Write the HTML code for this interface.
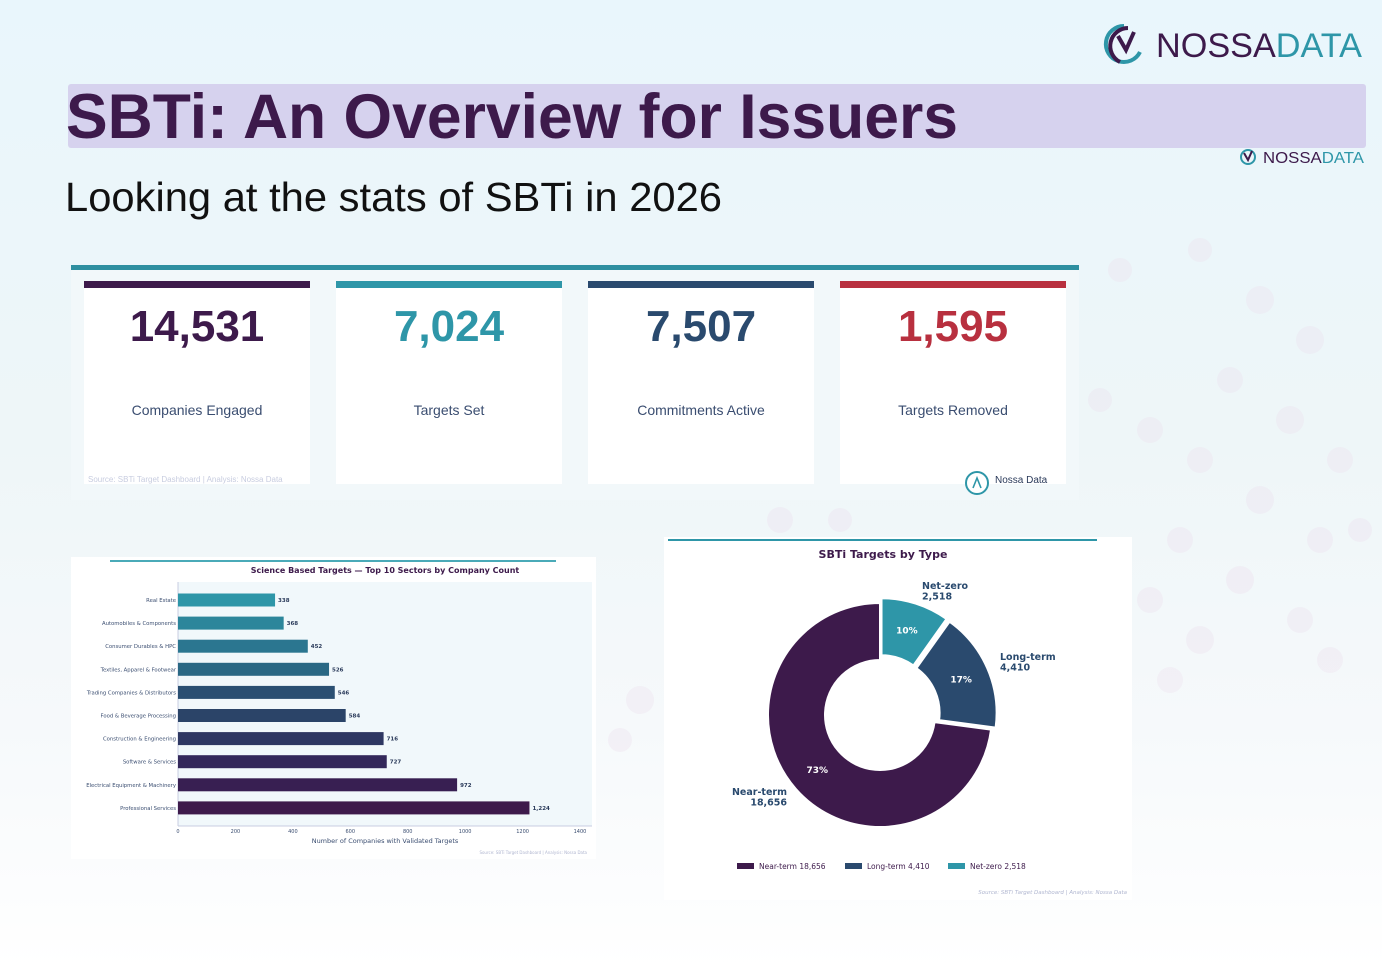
<!DOCTYPE html>
<html><head><meta charset="utf-8"><style>
html,body{margin:0;padding:0;width:1382px;height:969px;overflow:hidden}
body{background:linear-gradient(180deg,#e9f6fc 0%,#eef6f8 45%,#f6f9fb 75%,#ffffff 100%);font-family:"Liberation Sans","DejaVu Sans",sans-serif}
svg{position:absolute;left:0;top:0}
.mpl{font-family:"DejaVu Sans","Liberation Sans",sans-serif}
</style></head><body>
<svg width="1382" height="969" viewBox="0 0 1382 969">
<g fill="#ecdcec" opacity="0.3">
<circle cx="1260" cy="300" r="14"/><circle cx="1310" cy="340" r="14"/><circle cx="1230" cy="380" r="13"/><circle cx="1290" cy="420" r="14"/><circle cx="1340" cy="460" r="13"/><circle cx="1200" cy="460" r="13"/><circle cx="1260" cy="500" r="14"/><circle cx="1320" cy="540" r="13"/><circle cx="1180" cy="540" r="13"/><circle cx="1240" cy="580" r="14"/><circle cx="1300" cy="620" r="13"/><circle cx="1200" cy="640" r="14"/><circle cx="1150" cy="600" r="13"/><circle cx="1170" cy="680" r="13"/><circle cx="1330" cy="660" r="13"/><circle cx="1150" cy="430" r="13"/><circle cx="1100" cy="400" r="12"/><circle cx="1120" cy="270" r="12"/><circle cx="1200" cy="250" r="12"/><circle cx="640" cy="700" r="14"/><circle cx="620" cy="740" r="12"/><circle cx="780" cy="520" r="13"/><circle cx="840" cy="520" r="12"/><circle cx="1360" cy="530" r="12"/>
</g>
<g>
<path d="M1124 26 A18 18 0 1 0 1140 52" fill="none" stroke="#2e96a8" stroke-width="4"/>
<path d="M1120 58 A18 18 0 0 0 1128 24" fill="none" stroke="#3d1a4b" stroke-width="4" transform="rotate(180 1124 43)"/>
<path d="M1118 36 L1126 50 L1134 32" fill="none" stroke="#3d1a4b" stroke-width="4"/>
<text x="1156" y="57" font-size="34" fill="#3d1a4b" textLength="206" lengthAdjust="spacingAndGlyphs">NOSSA<tspan fill="#2e96a8">DATA</tspan></text>
</g>
<rect x="68" y="84" width="1298" height="64" rx="3" fill="#d6d2ee"/>
<text x="66" y="138" font-size="63" font-weight="bold" fill="#3d1a4b" textLength="892" lengthAdjust="spacingAndGlyphs">SBTi: An Overview for Issuers</text>
<g>
<circle cx="1248" cy="157" r="7" fill="none" stroke="#2e96a8" stroke-width="2"/>
<path d="M1244 153 L1248 160 L1252 151" fill="none" stroke="#3d1a4b" stroke-width="2"/>
<text x="1263" y="163" font-size="16" fill="#3d1a4b" textLength="101" lengthAdjust="spacingAndGlyphs">NOSSA<tspan fill="#2e96a8">DATA</tspan></text>
</g>
<text x="65" y="211" font-size="41" fill="#111" textLength="657" lengthAdjust="spacingAndGlyphs">Looking at the stats of SBTi in 2026</text>

<g>
<rect x="71" y="265" width="1008" height="235" fill="#f2f8fa"/>
<rect x="71" y="265" width="1008" height="5" fill="#2e8fa0"/>
<g>
<rect x="84" y="281" width="226" height="203" fill="#fff"/><rect x="84" y="281" width="226" height="7" fill="#3d1a4b"/>
<text x="197" y="341" text-anchor="middle" font-size="44" font-weight="bold" fill="#3d1a4b">14,531</text>
<text x="197" y="415" text-anchor="middle" font-size="14" fill="#3a4d70">Companies Engaged</text>
<text x="88" y="482" font-size="8" fill="#c8cde0">Source: SBTi Target Dashboard  |  Analysis: Nossa Data</text></g>
<g>
<rect x="336" y="281" width="226" height="203" fill="#fff"/><rect x="336" y="281" width="226" height="7" fill="#2e96a8"/>
<text x="449" y="341" text-anchor="middle" font-size="44" font-weight="bold" fill="#2e96a8">7,024</text>
<text x="449" y="415" text-anchor="middle" font-size="14" fill="#3a4d70">Targets Set</text></g>
<g>
<rect x="588" y="281" width="226" height="203" fill="#fff"/><rect x="588" y="281" width="226" height="7" fill="#2a4a6e"/>
<text x="701" y="341" text-anchor="middle" font-size="44" font-weight="bold" fill="#2a4a6e">7,507</text>
<text x="701" y="415" text-anchor="middle" font-size="14" fill="#3a4d70">Commitments Active</text></g>
<g>
<rect x="840" y="281" width="226" height="203" fill="#fff"/><rect x="840" y="281" width="226" height="7" fill="#b8303f"/>
<text x="953" y="341" text-anchor="middle" font-size="44" font-weight="bold" fill="#b8303f">1,595</text>
<text x="953" y="415" text-anchor="middle" font-size="14" fill="#3a4d70">Targets Removed</text></g>
<circle cx="977" cy="483" r="11" fill="#fff" stroke="#2e96a8" stroke-width="2"/>
<path d="M973 488 L977 478 L981 488" fill="none" stroke="#2e96a8" stroke-width="1.6"/>
<text x="995" y="483" font-size="10" fill="#2a3a5a">Nossa Data</text>
</g>

<g id="bar-chart" class="mpl">
<rect x="71" y="557" width="525" height="302" fill="#fff"/>
<rect x="110" y="560" width="446" height="2" fill="#4aaab8"/>
<text x="385" y="573" text-anchor="middle" font-size="8" font-weight="bold" fill="#3d1a4b">Science Based Targets — Top 10 Sectors by Company Count</text>
<rect x="178" y="582" width="414" height="244" fill="#f1f8fb"/>
<line x1="178" y1="582" x2="178" y2="826" stroke="#c8cde0"/>
<line x1="178" y1="826" x2="592" y2="826" stroke="#c8cde0"/>
<text x="385" y="843" text-anchor="middle" font-size="6.5" fill="#3a4d70">Number of Companies with Validated Targets</text>
<text x="587" y="854" text-anchor="end" font-size="4" fill="#b0b6d0">Source: SBTi Target Dashboard  |  Analysis: Nossa Data</text>
</g>

<g id="donut-chart" class="mpl">
<rect x="664" y="537" width="468" height="363" fill="#fff"/>
<rect x="668" y="539" width="429" height="2" fill="#2e96a8"/>
<text x="883" y="558" text-anchor="middle" font-size="11" font-weight="bold" fill="#3d1a4b">SBTi Targets by Type</text>
<text x="1127" y="894" text-anchor="end" font-size="5.5" font-style="italic" fill="#b0b6d0">Source: SBTi Target Dashboard  |  Analysis: Nossa Data</text>
</g>
</svg>
<script>
var sectors=["Real Estate","Automobiles & Components","Consumer Durables & HPC","Textiles, Apparel & Footwear","Trading Companies & Distributors","Food & Beverage Processing","Construction & Engineering","Software & Services","Electrical Equipment & Machinery","Professional Services"];
var sectorCounts=[338,368,452,526,546,584,716,727,972,1224];
var xTicks=[0,200,400,600,800,1000,1200,1400];
var barColors=["#2e96a8","#2c869b","#2b7690","#2a6884","#2a4f72","#2b4468","#2e3762","#33285a","#381f52","#3d1a4b"];
var donutTypes=["Net-zero","Long-term","Near-term"];
var donutValues=[2518,4410,18656];
var donutColors=["#2e96a8","#2a4a6e","#3d1a4b"];
var NS="http://www.w3.org/2000/svg";
function mk(parent,tag,attrs,text){var e=document.createElementNS(NS,tag);for(var k in attrs)e.setAttribute(k,attrs[k]);if(text!=null)e.textContent=text;parent.appendChild(e);return e;}
function fmt(v){return v.toLocaleString("en-US");}
var bc=document.getElementById("bar-chart");
function xs(v){return 178+v*(402/1400);}
function ys(i){return 600+i*23.1;}
xTicks.forEach(function(t){var e=mk(bc,"text",{x:xs(t),y:833,"text-anchor":"middle","font-size":"5","fill":"#3a4d70"},t);

});
sectors.forEach(function(s,i){
var y=ys(i);
var r=mk(bc,"rect",{x:178,y:y-6.5,width:xs(sectorCounts[i])-178,height:13,fill:barColors[i]});


var l=mk(bc,"text",{x:176,y:y+2,"text-anchor":"end","font-size":"5.3",fill:"#3a4d70"},s);


var v=mk(bc,"text",{x:xs(sectorCounts[i])+3,y:y+2,"font-size":"5.5","font-weight":"bold",fill:"#2a3a5a"},fmt(sectorCounts[i]));


});
var dc=document.getElementById("donut-chart");
var cx=880,cy=715,R=112,r0=55;
var total=donutValues.reduce(function(a,b){return a+b;},0);
var start=0;
var explode=[5,5,0];
var labelPos=[[922,589],[1000,660],[787,795]];
var anchors=["start","start","end"];
donutValues.forEach(function(v,i){
var frac=v/total,a0=start*2*Math.PI,a1=(start+frac)*2*Math.PI,am=(a0+a1)/2;
var ox=explode[i]*Math.sin(am),oy=-explode[i]*Math.cos(am);
function pt(rad,a){return [cx+ox+rad*Math.sin(a),cy+oy-rad*Math.cos(a)];}
var large=frac>0.5?1:0;
var p1=pt(R,a0),p2=pt(R,a1),p3=pt(r0,a1),p4=pt(r0,a0);
var d="M"+p1+" A"+R+" "+R+" 0 "+large+" 1 "+p2+" L"+p3+" A"+r0+" "+r0+" 0 "+large+" 0 "+p4+"Z";
var p=mk(dc,"path",{d:d,fill:donutColors[i],stroke:"#fff","stroke-width":"2"});


var pc=pt((R+r0)/2,am);
var t=mk(dc,"text",{x:pc[0],y:pc[1]+3,"text-anchor":"middle","font-size":"9","font-weight":"bold",fill:"#fff"},Math.round(frac*100)+"%");


var lp=labelPos[i];
var lt=mk(dc,"text",{x:lp[0],y:lp[1],"text-anchor":anchors[i],"font-size":"9.5","font-weight":"bold",fill:"#2a4a6e"});


mk(lt,"tspan",{x:lp[0]},donutTypes[i]);
mk(lt,"tspan",{x:lp[0],dy:"10.5"},fmt(v));
start+=frac;
});
var legendX=[737,845,948];
var order=[2,1,0];
order.forEach(function(k,j){
var g=mk(dc,"g",{});


mk(g,"rect",{x:legendX[j],y:863,width:17,height:6,fill:donutColors[k]});
mk(g,"text",{x:legendX[j]+22,y:869,"font-size":"7.5",fill:"#3d1a4b"},donutTypes[k]+" "+fmt(donutValues[k]));
});
</script>
</body></html>
